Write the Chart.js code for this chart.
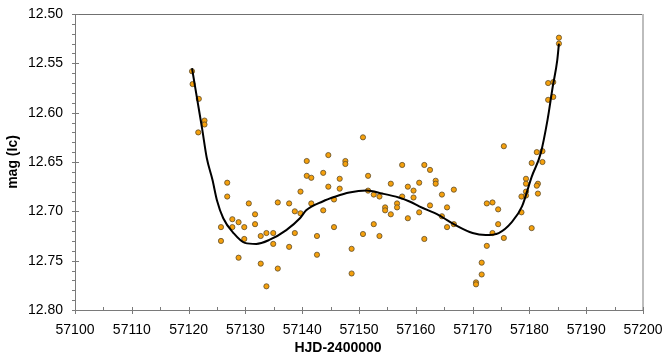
<!DOCTYPE html>
<html>
<head>
<meta charset="utf-8">
<script src="https://cdn.jsdelivr.net/npm/chart.js@4.4.1/dist/chart.umd.min.js"></script>
<style>
    html, body { margin: 0; padding: 0; background: #fff; }
    #wrap { width: 662px; height: 358px; }
</style>
</head>
<body>
<div id="wrap"><canvas id="lcChart" width="662" height="358"></canvas></div>
<script>
// observed points (HJD-2400000, mag Ic)
var obsDay = [
    57120.6, 57120.7, 57121.8, 57122.8, 57122.8, 57121.7,
    57126.8, 57126.8, 57130.6, 57135.7, 57137.7, 57138.7, 57131.7, 57127.7, 57128.8, 57131.7,
    57125.7, 57127.7, 57129.8, 57138.7, 57132.7, 57133.7, 57134.9, 57129.8, 57125.7, 57134.9,
    57137.7, 57128.8, 57132.7, 57135.7, 57133.7,
    57150.7, 57140.8, 57144.6, 57147.6, 57147.6, 57157.6, 57140.8, 57141.6, 57143.7, 57146.6,
    57151.6, 57155.6, 57158.6, 57139.7, 57144.6, 57146.6, 57151.6, 57152.6, 57153.6, 57157.6,
    57145.6, 57141.6, 57156.7, 57156.7, 57154.6, 57154.6, 57143.7, 57139.7, 57155.6, 57158.6,
    57152.6, 57145.6, 57150.7, 57153.6, 57142.6, 57148.7, 57142.6, 57148.7,
    57175.5, 57161.5, 57162.5, 57163.5, 57163.5, 57160.6, 57159.6, 57166.7, 57164.6, 57159.6,
    57172.5, 57173.5, 57162.5, 57165.5, 57174.5, 57160.6, 57164.6, 57165.5, 57166.7, 57174.5,
    57173.5, 57175.5, 57161.5, 57172.5, 57171.6, 57171.6, 57170.6, 57170.6,
    57185.2, 57185.2, 57183.3, 57184.2, 57183.3, 57184.2, 57181.3, 57182.3, 57180.4, 57182.3,
    57179.4, 57179.4, 57181.5, 57181.3, 57179.4, 57181.5, 57178.6, 57179.4, 57178.6, 57180.4
];
var obsMag = [
    12.558, 12.571, 12.586, 12.608, 12.612, 12.620,
    12.671, 12.685, 12.692, 12.691, 12.692, 12.700, 12.703, 12.708, 12.711, 12.713,
    12.716, 12.716, 12.716, 12.722, 12.725, 12.722, 12.722, 12.728, 12.730, 12.733,
    12.736, 12.747, 12.753, 12.758, 12.776,
    12.625, 12.649, 12.643, 12.649, 12.652, 12.653, 12.664, 12.666, 12.661, 12.667,
    12.664, 12.672, 12.675, 12.680, 12.675, 12.677, 12.679, 12.683, 12.685, 12.685,
    12.688, 12.692, 12.692, 12.696, 12.696, 12.699, 12.699, 12.702, 12.703, 12.707,
    12.713, 12.716, 12.723, 12.725, 12.725, 12.738, 12.744, 12.763,
    12.634, 12.653, 12.658, 12.669, 12.672, 12.671, 12.679, 12.678, 12.683, 12.686,
    12.692, 12.691, 12.694, 12.696, 12.698, 12.701, 12.705, 12.716, 12.713, 12.713,
    12.722, 12.727, 12.728, 12.735, 12.752, 12.764, 12.772, 12.774,
    12.524, 12.530, 12.570, 12.569, 12.587, 12.584, 12.640, 12.639, 12.651, 12.650,
    12.667, 12.672, 12.672, 12.674, 12.680, 12.682, 12.685, 12.684, 12.701, 12.717
];

// fitted curve
var fitDay = [
    57120.6, 57121.5, 57122.4, 57123.2, 57124.2, 57125.0, 57126.1, 57127.9, 57129.9, 57131.9,
    57134.2, 57137.2, 57139.6, 57140.7, 57143.6, 57145.9, 57148.3, 57151.3, 57154.1, 57157.0,
    57158.9, 57160.6, 57164.1, 57167.0, 57170.0, 57172.3, 57174.6, 57176.9, 57178.7, 57180.4,
    57182.0, 57183.2, 57184.1, 57184.9, 57185.2
];
var fitMag = [
    12.555, 12.586, 12.617, 12.646, 12.668, 12.689, 12.707, 12.722, 12.732, 12.733,
    12.729, 12.719, 12.707, 12.699, 12.690, 12.685, 12.681, 12.679, 12.682, 12.686,
    12.690, 12.695, 12.704, 12.714, 12.722, 12.724, 12.722, 12.711, 12.695, 12.665,
    12.641, 12.607, 12.574, 12.547, 12.530
];

var xTicks = [57100, 57110, 57120, 57130, 57140, 57150, 57160, 57170, 57180, 57190, 57200];
var yTicks = [12.50, 12.55, 12.60, 12.65, 12.70, 12.75, 12.80];
var xTitle = 'HJD-2400000';
var yTitle = 'mag (Ic)';

var pts = obsDay.map(function (d, i) { return { x: d, y: obsMag[i] }; });
var fit = fitDay.map(function (d, i) { return { x: d, y: fitMag[i] }; });

Chart.defaults.font.family = '"Liberation Sans", Arial, sans-serif';
Chart.defaults.color = '#000';

// plot box, crossing tick marks and the x title
var tickMarks = {
    id: 'tickMarks',
    afterDraw: function (chart) {
        var c = chart.ctx, a = chart.chartArea;
        var x = chart.scales.x, y = chart.scales.y;
        var L = Math.round(a.left), R = Math.round(a.right);
        var T = Math.round(a.top), B = Math.round(a.bottom);
        c.save();
        c.globalAlpha = 1;
        c.globalCompositeOperation = 'source-over';
        c.fillStyle = '#707070';
        c.fillRect(L, T, R - L, 1);
        c.fillStyle = '#bdbdbd';
        c.fillRect(R - 1, T, 1, B - T);
        c.fillStyle = '#7a7a7a';
        c.fillRect(L, T, 1, B - T + 1);
        c.fillRect(L, B, R - L, 1);
        // x ticks, minor every 5 days
        for (var d = xTicks[0]; d <= xTicks[xTicks.length - 1]; d += 5) {
            var px = Math.round(x.getPixelForValue(d));
            var major = (d % 10) === 0;
            c.fillRect(px, B - 3, 1, major ? 7 : 3);
        }
        // y ticks, minor every 0.01
        for (var k = 0; k <= 30; k++) {
            var py = Math.round(y.getPixelForValue(12.5 + k / 100));
            var big = (k % 5) === 0;
            c.fillRect(L - 3, py, big ? 7 : 3, 1);
        }

        c.fillStyle = '#000';
        c.font = 'bold 14px "Liberation Sans", Arial, sans-serif';
        c.textAlign = 'center';
        c.textBaseline = 'middle';
        c.fillText(xTitle, 338, 348);
        c.restore();
    }
};

var ctx = document.getElementById('lcChart');
window.lcChart = new Chart(ctx, {
    type: 'scatter',
    data: {
        datasets: [{
            label: 'fit',
            data: fit,
            showLine: true,
            borderColor: '#000',
            borderWidth: 2,
            pointRadius: 0,
            cubicInterpolationMode: 'monotone',
            order: 0
        }, {
            label: 'Ic',
            data: pts,
            backgroundColor: '#f5a00c',
            borderColor: '#5e4c2c',
            borderWidth: 0.8,
            pointRadius: 2.6,
            order: 1
        }]
    },
    options: {
        responsive: false,
        animation: false,
        layout: { padding: { top: 14, right: 19, left: 0, bottom: 0 } },
        plugins: {
            legend: { display: false },
            tooltip: { enabled: false }
        },
        scales: {
            x: {
                type: 'linear',
                min: 57100,
                max: 57200,
                grid: {
                    drawTicks: false,
                    // only the right edge of the box
                    color: function (c) { return c.tick && c.tick.value === 57200 ? '#bdbdbd' : 'rgba(0,0,0,0)'; }
                },
                border: { display: true, color: '#7a7a7a', width: 1 },
                afterBuildTicks: function (s) { s.ticks = xTicks.map(function (v) { return { value: v }; }); },
                afterFit: function (s) { s.height = 48; s.paddingLeft = 0; s.paddingRight = 0; },
                ticks: {
                    autoSkip: false,
                    maxRotation: 0,
                    padding: 12,
                    font: { size: 14 },
                    callback: function (v) { return String(v); }
                }
            },
            y: {
                reverse: true,
                min: 12.5,
                max: 12.8,
                grid: {
                    drawTicks: false,
                    // only the top edge of the box
                    color: function (c) { return c.tick && c.tick.value === 12.5 ? '#707070' : 'rgba(0,0,0,0)'; }
                },
                border: { display: true, color: '#7a7a7a', width: 1 },
                afterBuildTicks: function (s) { s.ticks = yTicks.map(function (v) { return { value: v }; }); },
                afterFit: function (s) { s.width = 75; s.paddingTop = 0; s.paddingBottom = 0; },
                ticks: {
                    padding: 12,
                    font: { size: 14 },
                    callback: function (v) { return Number(v).toFixed(2); }
                },
                title: {
                    display: true,
                    text: yTitle,
                    font: { size: 14, weight: 'bold' },
                    padding: { top: 5, bottom: 0 }
                }
            }
        }
    },
    plugins: [tickMarks]
});
</script>
</body>
</html>
